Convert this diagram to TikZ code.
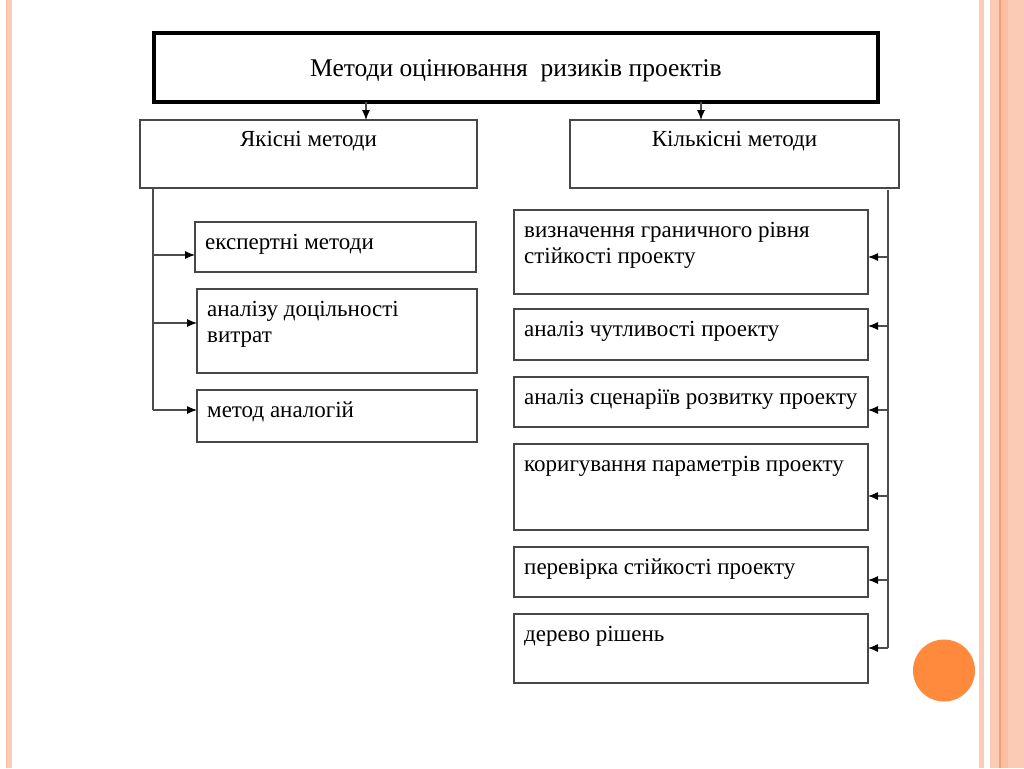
\documentclass[tikz,border=0pt]{standalone}
\usepackage{fontspec}
\setmainfont{Liberation Serif}
\usetikzlibrary{arrows.meta}
\definecolor{stripe}{HTML}{FCCBB6}
\definecolor{stripeD}{HTML}{FBBEA3}
\definecolor{stripeL}{HTML}{F4A070}
\definecolor{dot}{HTML}{FF8A3D}
\newcommand\bx[5]{\node[box, minimum width=#4pt, minimum height=#5pt] (#1) at (#2,#3) {};}
\begin{document}
\begin{tikzpicture}[x=1pt,y=-1pt,
  box/.style={draw=black!72, line width=1.1pt, fill=white, inner sep=0pt, outer sep=0pt, anchor=north west},
  txt/.style={anchor=north west, inner sep=0pt, align=left, font=\fontsize{23}{26}\selectfont},
  conn/.style={draw=black!70, line width=1.1pt},
  arr/.style={conn, -{Latex[length=10pt,width=8pt,black]}}]
\useasboundingbox (0,0) rectangle (1024,768);
\fill[white] (0,0) rectangle (1024,768);
% slide decoration
\fill[stripe] (6,0) rectangle (12,768);
\fill[stripeD] (6,0) rectangle (7,768);
\fill[stripe] (979,0) rectangle (984,768);
\fill[stripe] (990,0) rectangle (1024,768);
\fill[stripeD] (1000,0) rectangle (1008,768);
\fill[stripeL] (999,0) rectangle (1000.5,768);
\fill[dot] (944,670.5) circle (31);
% title
\node[draw=black, line width=3.8pt, minimum width=724pt, minimum height=69pt, anchor=north west, inner sep=0pt, outer sep=0pt] (title) at (154,33) {};
\node[inner sep=0pt, font=\fontsize{25.5}{27}\selectfont] (title-t) at ([shift={(0,3)}]title.center) {Методи оцінювання\ \ ризиків проектів};
% level 2
\bx{q}{140}{120}{337}{68}
\node[txt, anchor=north] (q-t) at ([shift={(0,11)}]q.north) {Якісні методи};
\bx{k}{570}{120}{329}{68}
\node[txt, anchor=north] (k-t) at ([shift={(0,11)}]k.north) {Кількісні методи};
\draw[arr] (title.south -| 366,0) -- (q.north -| 366,0);
\draw[arr] (title.south -| 701,0) -- (k.north -| 701,0);
% left boxes
\bx{e}{195}{222}{281}{50}
\node[txt] (e-t) at ([shift={(10,12)}]e.north west) {експертні методи};
\bx{a}{197}{289}{280}{84}
\node[txt] (a-t) at ([shift={(10,12)}]a.north west) {аналізу доцільності\\витрат};
\bx{m}{197}{390}{280}{52}
\node[txt] (m-t) at ([shift={(10,12)}]m.north west) {метод аналогій};
\coordinate (Ltop) at ([xshift=13]q.south west);
\draw[conn] (Ltop) -- (Ltop |- 0,410);
\draw[arr] (Ltop |- 0,255) -- (e.west |- 0,255);
\draw[arr] (Ltop |- 0,323) -- (a.west |- 0,323);
\draw[arr] (Ltop |- 0,410) -- (m.west |- 0,410);
% right boxes
\bx{r1}{514}{210}{354}{84}
\node[txt] (r1-t) at ([shift={(10,12)}]r1.north west) {визначення граничного рівня\\стійкості проекту};
\bx{r2}{514}{309}{354}{51}
\node[txt] (r2-t) at ([shift={(10,12)}]r2.north west) {аналіз чутливості проекту};
\bx{r3}{514}{377}{354}{50}
\node[txt] (r3-t) at ([shift={(10,12)}]r3.north west) {аналіз сценаріїв розвитку проекту};
\bx{r4}{514}{444}{354}{86}
\node[txt] (r4-t) at ([shift={(10,12)}]r4.north west) {коригування параметрів проекту};
\bx{r5}{514}{547}{354}{50}
\node[txt] (r5-t) at ([shift={(10,12)}]r5.north west) {перевірка стійкості проекту};
\bx{r6}{514}{614}{354}{69}
\node[txt] (r6-t) at ([shift={(10,12)}]r6.north west) {дерево рішень};
\coordinate (Rtop) at ([xshift=-11,yshift=-2]k.south east);
\draw[conn] (Rtop) -- (Rtop |- 0,648);
\draw[arr] (Rtop |- 0,257) -- (r1.east |- 0,257);
\draw[arr] (Rtop |- 0,326) -- (r2.east |- 0,326);
\draw[arr] (Rtop |- 0,410) -- (r3.east |- 0,410);
\draw[arr] (Rtop |- 0,496) -- (r4.east |- 0,496);
\draw[arr] (Rtop |- 0,580) -- (r5.east |- 0,580);
\draw[arr] (Rtop |- 0,648) -- (r6.east |- 0,648);
\end{tikzpicture}
\end{document}
